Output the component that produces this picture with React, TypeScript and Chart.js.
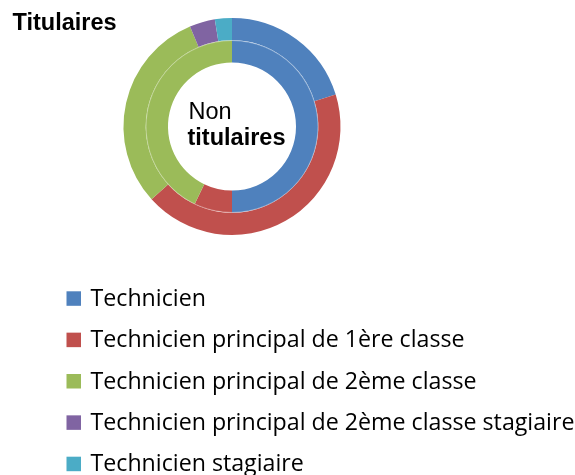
import React, { useEffect, useRef } from "react";
import { Chart, registerables } from "chart.js";

Chart.register(...registerables);

const categories = [
  "Technicien",
  "Technicien principal de 1ère classe",
  "Technicien principal de 2ème classe",
  "Technicien principal de 2ème classe stagiaire",
  "Technicien stagiaire",
];
const titulaires = [16, 34, 24, 3, 2];
const nonTitulaires = [7, 1, 6, 0, 0];
const colors = ["#4F81BD", "#C0504D", "#9BBB59", "#8064A2", "#4BACC6"];
const outerLabel = "Titulaires";
const innerLabelTop = "Non";
const innerLabelBottom = "titulaires";

const decorPlugin = {
  id: "decor",
  afterDatasetsDraw(chart: any) {
    const ctx = chart.ctx;
    const meta = chart.getDatasetMeta(1);
    const arc = meta.data.find((a: any) => a) as any;
    if (arc) {
      const props = arc.getProps(["x", "y", "outerRadius"], true);
      ctx.save();
      ctx.beginPath();
      ctx.arc(props.x, props.y, props.outerRadius - 0.3, 0, Math.PI * 2);
      ctx.strokeStyle = "rgba(255,255,255,0.5)";
      ctx.lineWidth = 0.7;
      ctx.stroke();
      ctx.restore();
    }
  },
  afterDraw(chart: any) {
    const ctx = chart.ctx;
    ctx.save();
    ctx.fillStyle = "#000";
    ctx.textBaseline = "alphabetic";
    ctx.textAlign = "left";
    ctx.font = "bold 23.5px 'Liberation Sans', Arial, sans-serif";
    ctx.fillText(outerLabel, 12.5, 29.7);

    ctx.font = "23.5px 'Liberation Sans', Arial, sans-serif";
    ctx.fillText(innerLabelTop, 188.5, 118.7);
    ctx.font = "bold 23.5px 'Liberation Sans', Arial, sans-serif";
    ctx.fillText(innerLabelBottom, 187.5, 145.3);

    ctx.font = "23.2px 'Open Sans', sans-serif";
    categories.forEach((label, i) => {
      const top = 291.3 + i * 41.35;
      ctx.fillStyle = colors[i];
      ctx.fillRect(66.5, top, 14.5, 14.5);
      ctx.fillStyle = "#000";
      ctx.fillText(label, 90.5, top + 14.6);
    });
    ctx.restore();
  },
};

export default function App() {
  const ref = useRef<HTMLCanvasElement | null>(null);
  useEffect(() => {
    if (!ref.current) return;
    const chart = new Chart(ref.current, {
      type: "doughnut",
      data: {
        labels: categories,
        datasets: [
          {
            label: outerLabel,
            data: titulaires,
            backgroundColor: colors,
            borderWidth: 0,
          },
          {
            label: innerLabelTop + " " + innerLabelBottom,
            data: nonTitulaires,
            backgroundColor: colors,
            borderWidth: 0,
          },
        ],
      },
      options: {
        animation: false,
        responsive: true,
        maintainAspectRatio: false,
        cutout: "59%",
        layout: { padding: { left: 123.5, top: 18, right: 234.5, bottom: 240 } },
        plugins: {
          legend: { display: false },
          title: { display: false },
          tooltip: { enabled: false },
        },
      },
      plugins: [decorPlugin],
    });
    return () => chart.destroy();
  }, []);
  return (
    <div style={{ position: "fixed", left: 0, top: 0, width: 575, height: 475, background: "#fff" }}>
      <canvas ref={ref} />
    </div>
  );
}
